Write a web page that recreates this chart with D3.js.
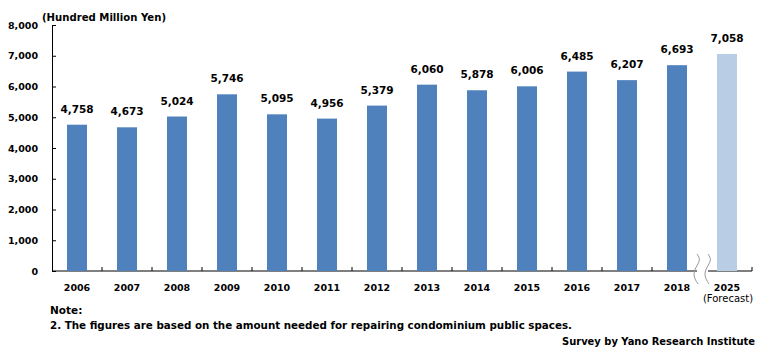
<!DOCTYPE html>
<html>
<head>
<meta charset="utf-8">
<script src="https://cdn.jsdelivr.net/npm/d3@7"></script>
<style>
  body { margin: 0; background: #fff; }
  svg text { font-family: "DejaVu Sans", sans-serif; fill: #000; font-weight: bold; }
</style>
</head>
<body>
<svg id="chart" width="768" height="353"></svg>
<script>
const years = ['2006', '2007', '2008', '2009', '2010', '2011', '2012', '2013', '2014', '2015', '2016', '2017', '2018', '2025'];
const values = [4758, 4673, 5024, 5746, 5095, 4956, 5379, 6060, 5878, 6006, 6485, 6207, 6693, 7058];
const forecast = [false, false, false, false, false, false, false, false, false, false, false, false, false, true];
const yTicks = [0, 1000, 2000, 3000, 4000, 5000, 6000, 7000, 8000];

const margin = { top: 25, right: 16, bottom: 82, left: 52 };
const width = 768 - margin.left - margin.right;
const height = 353 - margin.top - margin.bottom;

const svg = d3.select('#chart');
const g = svg.append('g').attr('transform', `translate(${margin.left},${margin.top})`);

const x = d3.scaleBand().domain(years).range([0, width]).paddingInner(0).paddingOuter(0);
const y = d3.scaleLinear().domain([0, 8000]).range([height, 0]);
const fmt = d3.format(',');
const barW = 20;

// y axis (ticks point inward)
const yAxis = g.append('g')
  .call(d3.axisLeft(y).tickValues(yTicks).tickFormat(fmt).tickSize(-4).tickPadding(14));
yAxis.select('.domain').attr('stroke', '#000');
yAxis.selectAll('.tick line').attr('stroke', '#000');
yAxis.selectAll('text').style('font-size', '9.5px').style('font-family', '"DejaVu Sans", sans-serif');

// x axis line with ticks at band boundaries (none at the break)
g.append('line').attr('x1', 0).attr('x2', width).attr('y1', height).attr('y2', height).attr('stroke', '#000');
years.forEach((yr, i) => {
  if (i === 0 || forecast[i]) return;
  g.append('line')
    .attr('x1', x(yr)).attr('x2', x(yr))
    .attr('y1', height).attr('y2', height - 4)
    .attr('stroke', '#000');
});
g.append('line').attr('x1', width).attr('x2', width).attr('y1', height).attr('y2', height - 4).attr('stroke', '#000');

// bars
g.selectAll('.bar')
  .data(years)
  .enter().append('rect')
  .attr('class', 'bar')
  .attr('x', d => x(d) + x.bandwidth() / 2 - barW / 2)
  .attr('y', (d, i) => y(values[i]))
  .attr('width', barW)
  .attr('height', (d, i) => height - y(values[i]))
  .attr('fill', (d, i) => forecast[i] ? '#B9CDE5' : '#4F81BD');

// value labels
g.selectAll('.label')
  .data(years)
  .enter().append('text')
  .attr('class', 'label')
  .attr('x', d => x(d) + x.bandwidth() / 2)
  .attr('y', (d, i) => y(values[i]) - 12)
  .attr('text-anchor', 'middle')
  .style('font-size', '10.5px')
  .text((d, i) => fmt(values[i]));

// category labels
g.selectAll('.xlab')
  .data(years)
  .enter().append('text')
  .attr('x', d => x(d) + x.bandwidth() / 2)
  .attr('y', height + 20)
  .attr('text-anchor', 'middle')
  .style('font-size', '9.5px')
  .text(d => d);

g.append('text')
  .attr('x', x('2025') + x.bandwidth() / 2 + 1)
  .attr('y', height + 31)
  .attr('text-anchor', 'middle')
  .style('font-size', '10px')
  .style('font-weight', 'normal')
  .text('(Forecast)');

// axis break: white gap with two wavy lines
const bx = x('2025');
g.append('rect')
  .attr('x', bx - 5).attr('y', height - 2)
  .attr('width', 11).attr('height', 4)
  .attr('fill', '#fff');
const wave = d3.line().curve(d3.curveBasis);
[-5, 6].forEach(dx => {
  g.append('path')
    .attr('d', wave([[bx + dx, height - 17], [bx + dx + 4, height - 11], [bx + dx - 2, height - 3], [bx + dx - 4, height + 5], [bx + dx + 1, height + 13]]))
    .attr('fill', 'none')
    .attr('stroke', '#999')
    .attr('stroke-width', 1);
});

// unit title
svg.append('text')
  .attr('x', 42).attr('y', 21)
  .style('font-size', '10.5px')
  .attr('textLength', 124).attr('lengthAdjust', 'spacingAndGlyphs')
  .text('(Hundred Million Yen)');

// notes
svg.append('text').attr('x', 50).attr('y', 314)
  .style('font-size', '10.5px').text('Note:');
svg.append('text').attr('x', 50).attr('y', 329)
  .style('font-size', '10.5px')
  .attr('textLength', 522).attr('lengthAdjust', 'spacingAndGlyphs')
  .text('2. The figures are based on the amount needed for repairing condominium public spaces.');
svg.append('text').attr('x', 755).attr('y', 345).attr('text-anchor', 'end')
  .style('font-size', '10.5px')
  .attr('textLength', 193).attr('lengthAdjust', 'spacingAndGlyphs')
  .text('Survey by Yano Research Institute');
</script>
</body>
</html>
